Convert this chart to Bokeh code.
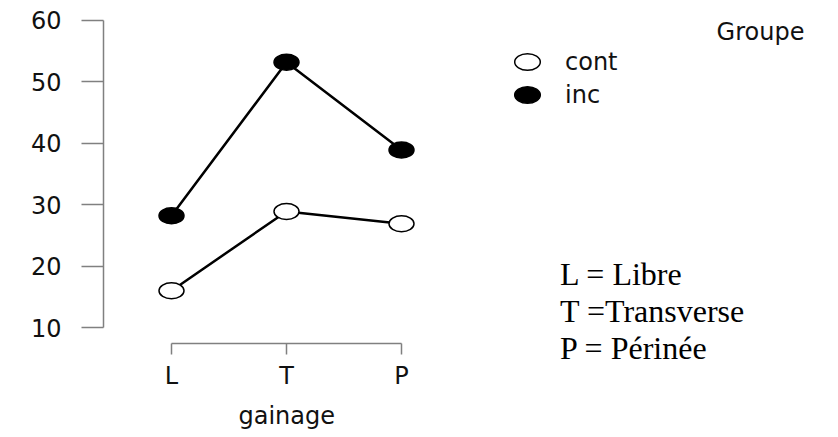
from bokeh.plotting import figure
from bokeh.layouts import row
from bokeh.models import Range1d, FixedTicker, Legend, LegendItem, Label, Title, Div
from bokeh.embed import file_html
from bokeh.resources import INLINE

# --- data -------------------------------------------------------------
categories = ["L", "T", "P"]
cont = [16.0, 28.9, 26.9]
inc = [28.2, 53.2, 38.9]
y_ticks = [10, 20, 30, 40, 50, 60]
group_labels = ["cont", "inc"]
legend_title = "Groupe"
x_title = "gainage"
notes = ["L = Libre", "T =Transverse", "P = Périnée"]

# --- layout (pixels) --------------------------------------------------
W, H = 838, 437
LEFT, BOTTOM = 103, 93
FRAME_W = W - LEFT
FRAME_H = H - BOTTOM
PX_PER_X = 115.0
PX_PER_Y = 6.16
x_pos = list(range(1, len(categories) + 1))

x0 = 1 - (171 - LEFT) / PX_PER_X
x1 = x0 + FRAME_W / PX_PER_X
y0 = y_ticks[0] - (FRAME_H - 328) / PX_PER_Y
y1 = y0 + FRAME_H / PX_PER_Y


def xd(px):
    return x0 + (px - LEFT) / PX_PER_X


def yd(py):
    return y0 + (FRAME_H - py) / PX_PER_Y


SANS = "DejaVu Sans"
INK = "#111111"

p = figure(width=W, height=H, x_range=Range1d(x0, x1), y_range=Range1d(y0, y1),
           output_backend="svg", toolbar_location=None,
           min_border_left=LEFT, min_border_bottom=BOTTOM,
           min_border_top=0, min_border_right=0)
p.outline_line_color = None
p.grid.visible = False
p.background_fill_color = "white"
p.border_fill_color = "white"

AXIS_GREY = "#808080"
for ax in (p.xaxis[0], p.yaxis[0]):
    ax.axis_line_color = AXIS_GREY
    ax.axis_line_width = 1.5
    ax.major_tick_line_color = AXIS_GREY
    ax.major_tick_line_width = 1.5
    ax.minor_tick_line_color = None
    ax.major_tick_in = 0
    ax.major_label_text_font = SANS
    ax.major_label_text_font_size = "24px"
    ax.major_label_text_color = INK

yax = p.yaxis[0]
yax.bounds = (y_ticks[0], y_ticks[-1])
yax.ticker = FixedTicker(ticks=y_ticks)
yax.major_tick_out = 22
yax.major_label_standoff = 20

xax = p.xaxis[0]
xax.bounds = (x_pos[0], x_pos[-1])
xax.ticker = FixedTicker(ticks=x_pos)
xax.major_label_overrides = {i: c for i, c in zip(x_pos, categories)}
xax.major_tick_out = 11
xax.major_label_standoff = 7

# x-axis title, centred under the category ticks
p.add_layout(Title(text=x_title, align="left", offset=135, standoff=15,
                   text_font=SANS, text_font_size="24px",
                   text_font_style="normal", text_color=INK), "below")

# --- series -----------------------------------------------------------
p.line(x_pos, inc, line_color="black", line_width=2.5)
p.line(x_pos, cont, line_color="black", line_width=2.5)
r_inc = p.ellipse(x=x_pos, y=inc, width=25, height=16, width_units="screen",
                  height_units="screen", fill_color="black", line_color="black",
                  line_width=1.5)
r_cont = p.ellipse(x=x_pos, y=cont, width=25, height=16, width_units="screen",
                   height_units="screen", fill_color="white", line_color="black",
                   line_width=1.5)

legend = Legend(items=[LegendItem(label=group_labels[0], renderers=[r_cont]),
                       LegendItem(label=group_labels[1], renderers=[r_inc])],
                location=(408, FRAME_H - 112), glyph_width=32, glyph_height=33,
                label_standoff=22, padding=0, margin=0, spacing=0,
                border_line_color=None, background_fill_alpha=0,
                label_text_font=SANS, label_text_font_size="24px",
                label_text_color=INK)
p.add_layout(legend)

p.add_layout(Label(x=xd(760), y=yd(32), text=legend_title, text_font=SANS,
                   text_font_size="24px", text_color=INK, text_align="center",
                   text_baseline="alphabetic"))

# --- key to the category letters, laid over the right-hand side --------
KEY_W = 300
key_html = ('<div style="font-family:\'Liberation Serif\',serif;font-size:32px;'
            'line-height:37px;color:black;margin:0;padding:256px 0 0 22px;'
            'white-space:nowrap;">' + "<br>".join(notes) + "</div>")
key = Div(text=key_html, width=KEY_W, height=H, margin=(0, 0, 0, -KEY_W))

layout = row(p, key, spacing=0)
open("out.html", "w").write(file_html(layout, INLINE))
